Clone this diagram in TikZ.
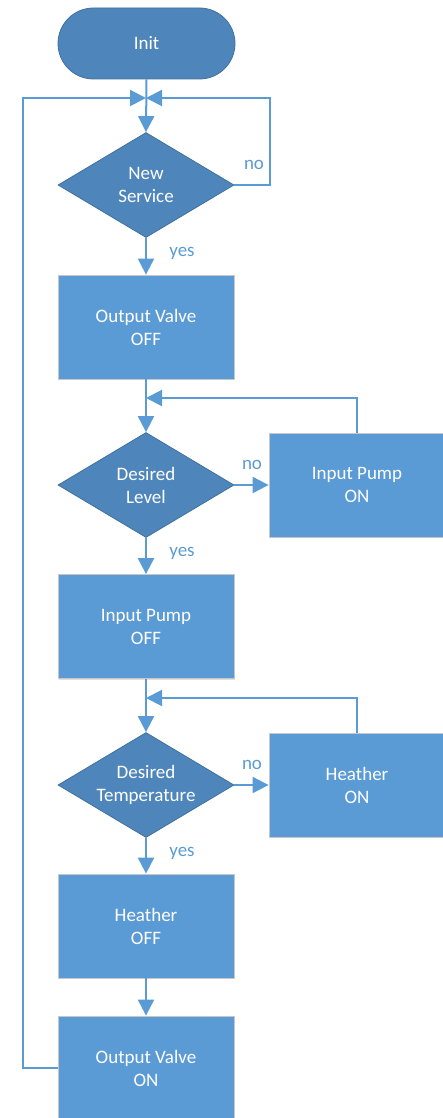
\documentclass[tikz,border=0pt]{standalone}
\usepackage{fontspec}
\setmainfont{Carlito}
\usetikzlibrary{arrows.meta,shapes.geometric,shapes.misc,shadows}
\definecolor{boxblue}{HTML}{5B9BD5}
\definecolor{dblue}{HTML}{4E86BC}
\definecolor{dborder}{HTML}{41719C}
\definecolor{lineblue}{HTML}{5B9BD5}
\begin{document}
\begin{tikzpicture}[x=1pt,y=-1pt,
  txt/.style={text=white,font=\fontsize{19}{23}\selectfont,align=center},
  box/.style={txt,rectangle,fill=boxblue,draw=black!22,line width=0.8pt,
    minimum width=176pt,minimum height=104pt,inner sep=0pt,
    drop shadow={shadow xshift=1.2pt,shadow yshift=-1.2pt,opacity=0.25}},
  dec/.style={txt,diamond,fill=dblue,draw=dborder,line width=0.8pt,
    minimum width=176pt,minimum height=105pt,aspect=1.676,inner sep=0pt},
  term/.style={txt,rounded rectangle,fill=dblue,draw=dborder,line width=0.8pt,
    minimum width=177pt,minimum height=71pt,inner sep=0pt},
  arr/.style={draw=lineblue,line width=2pt,-{Triangle[length=16pt,width=16pt]}},
  ln/.style={draw=lineblue,line width=2pt},
  lab/.style={text=lineblue,font=\fontsize{19}{23}\selectfont,inner sep=0pt}]
\useasboundingbox (0,0) rectangle (443,1118);

\node[term] (init) at (146.5,43.5) {Init};
\coordinate (j1) at (146,98);
\node[dec] (d1) at (146,185) {New\\Service};
\node[box] (b1) at (146,327) {Output Valve\\OFF};
\coordinate (j2) at (146,398);
\node[dec] (d2) at (146,485) {Desired\\Level};
\node[box] (p1) at (357,485) {Input Pump\\ON};
\node[box] (b2) at (146,626.5) {Input Pump\\OFF};
\coordinate (j3) at (146,698);
\node[dec] (d3) at (146,785) {Desired\\Temperature};
\node[box] (h1) at (357,785) {Heather\\ON};
\node[box] (b3) at (146,926) {Heather\\OFF};
\node[box] (b4) at (146,1068) {Output Valve\\ON};

% top section
\draw[arr] (init.south) -- (d1.north);
\draw[arr] (b4.west) -- ++(-35,0) |- (j1);
\draw[arr] (d1.east) -- ++(36,0) |- (j1);
\node[lab] (no1) at (254,165) {no};
\draw[arr] (d1.south) -- (b1.north);
\node[lab] (yes1) at (182,253) {yes};

% level section
\draw[arr] (b1.south) -- (d2.north);
\draw[arr] (p1.north) |- (j2);
\draw[arr] (d2.east) -- (p1.west);
\node[lab] (no2) at (252,465) {no};
\draw[arr] (d2.south) -- (b2.north);
\node[lab] (yes2) at (182,553) {yes};

% temperature section
\draw[arr] (b2.south) -- (d3.north);
\draw[arr] (h1.north) |- (j3);
\draw[arr] (d3.east) -- (h1.west);
\node[lab] (no3) at (252,765) {no};
\draw[arr] (d3.south) -- (b3.north);
\node[lab] (yes3) at (182,853) {yes};

\draw[arr] (b3.south) -- (b4.north);
\end{tikzpicture}
\end{document}
